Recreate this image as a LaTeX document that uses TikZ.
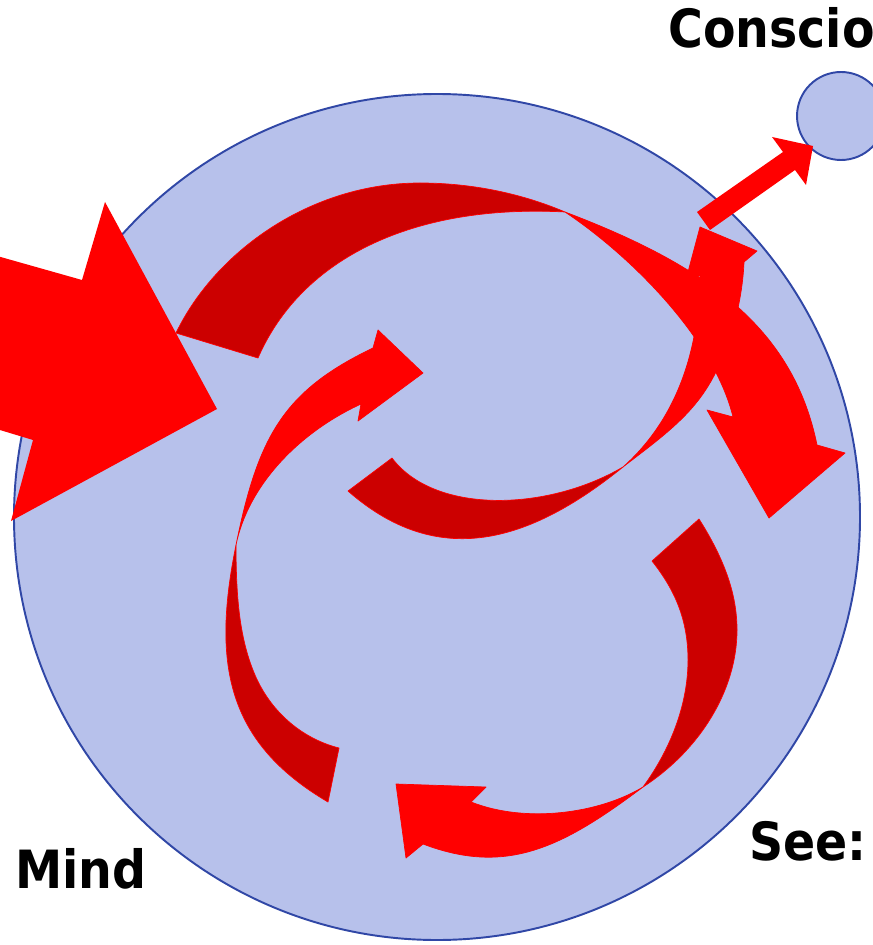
\documentclass[tikz,border=0pt]{standalone}
\usepackage{fontspec}
\newfontfamily\labelfont{DejaVu Sans Condensed}
\definecolor{mindblue}{HTML}{B7C1EB}
\definecolor{mindline}{HTML}{3047A6}
\definecolor{backred}{HTML}{CC0000}
\tikzset{
  mindcircle/.style={fill=mindblue, draw=mindline, line width=1.1pt},
  backband/.style={fill=backred, draw=red, line width=0.4pt, line join=round},
  frontband/.style={fill=red, draw=red, line width=0.4pt, line join=round},
  blockarrow/.style={fill=red},
  bigword/.style={font=\labelfont\bfseries\fontsize{30}{30}\selectfont, anchor=base west, inner sep=0pt}
}

\begin{document}
\begin{tikzpicture}[x=0.02cm, y=-0.02cm]
  \useasboundingbox (0,0) rectangle (872,945);

  \filldraw[mindcircle] (437,517) circle[radius=423];
  \filldraw[mindcircle] (841,116) circle[radius=44];

  % upper loop
  \filldraw[backband] (176,333) .. controls (215,252) and (310,183) .. (420,183)
    .. controls (480,183) and (530,197) .. (565,212)
    .. controls (415,204) and (302,257) .. (258,358) -- cycle;
  \filldraw[frontband] (565,212) .. controls (705,265) and (793,327) .. (817,445)
    -- (845,453) -- (769,518) -- (707,410) -- (733,417)
    .. controls (714,339) and (631,256) .. (565,212) -- cycle;

  % middle loop
  \filldraw[backband] (348,491) .. controls (438,570) and (529,543) .. (623,467)
    .. controls (546,512) and (434,514) .. (392,458) -- cycle;
  \filldraw[frontband] (623,467) .. controls (650,446) and (680,425) .. (700,398)
    .. controls (725,365) and (742,310) .. (744,262)
    -- (757,251) -- (700,227) -- (684,287) -- (700,275)
    .. controls (699,365) and (668,427) .. (623,467) -- cycle;

  % left loop
  \filldraw[backband] (328,802) .. controls (226,742) and (212,663) .. (236,545)
    .. controls (236,600) and (240,640) .. (255,675)
    .. controls (270,710) and (300,738) .. (339,748) -- cycle;
  \filldraw[frontband] (236,545) .. controls (258,437) and (283,391) .. (373,348)
    -- (378,330) -- (423,373) -- (358,421) -- (361,404)
    .. controls (298,433) and (248,486) .. (236,545) -- cycle;

  % lower loop
  \filldraw[backband] (699,519) .. controls (725,560) and (737,595) .. (737,630)
    .. controls (737,690) and (700,750) .. (643,787)
    .. controls (670,750) and (688,705) .. (688,660)
    .. controls (688,620) and (675,590) .. (652,561) -- cycle;
  \filldraw[frontband] (643,787) .. controls (563,847) and (507,876) .. (423,844)
    -- (406,858) -- (396,784) -- (486,787) -- (471,802)
    .. controls (527,824) and (600,813) .. (643,787) -- cycle;

  % straight arrows
  \fill[blockarrow] (-10,254) -- (82,280) -- (105,202) -- (217,409) -- (11,521) -- (33,440) -- (-10,427) -- cycle;
  \fill[blockarrow] (697,212) -- (783,152) -- (772,137) -- (813,146) -- (806,185) -- (795,170) -- (710,230) -- cycle;

  \node[bigword] (conscious) at (668,48) {Conscio};
  \node[bigword] (mind) at (15,888) {Mind};
  \node[bigword] (see) at (749,860) {See:};
\end{tikzpicture}
\end{document}
